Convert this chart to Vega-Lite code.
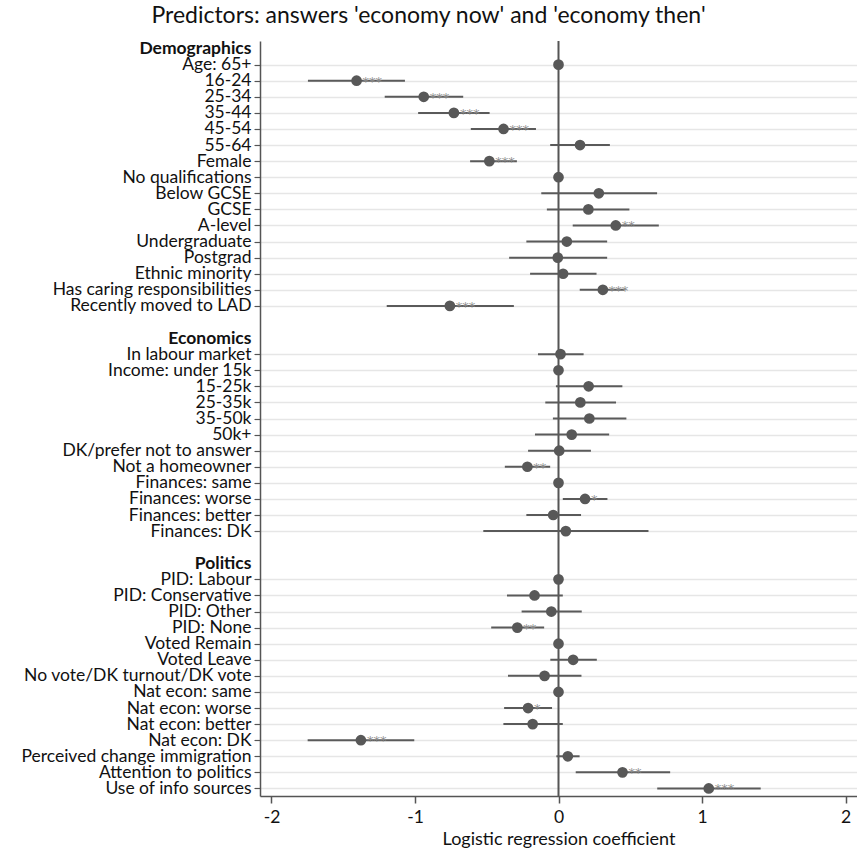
{
  "$schema": "https://vega.github.io/schema/vega-lite/v6.json",
  "autosize": "none",
  "width": 597,
  "height": 755,
  "padding": {"left": 260, "top": 41, "right": 0, "bottom": 61},
  "config": {"view": {"stroke": null}, "font": "Lato"},
  "title": {"text": "Predictors: answers 'economy now' and 'economy then'", "fontSize": 23, "fontWeight": "normal", "font": "Lato", "color": "#111", "anchor": "middle", "frame": "group", "dx": -130, "offset": 12},
  "data": {"values": [
    {"label": "Age: 65+", "coef": 0, "lo": 0, "hi": 0, "stars": ""},
    {"label": "16-24", "coef": -1.407, "lo": -1.746, "hi": -1.07, "stars": "***"},
    {"label": "25-34", "coef": -0.939, "lo": -1.211, "hi": -0.664, "stars": "***"},
    {"label": "35-44", "coef": -0.729, "lo": -0.978, "hi": -0.48, "stars": "***"},
    {"label": "45-54", "coef": -0.383, "lo": -0.611, "hi": -0.157, "stars": "***"},
    {"label": "55-64", "coef": 0.15, "lo": -0.058, "hi": 0.358, "stars": ""},
    {"label": "Female", "coef": -0.482, "lo": -0.616, "hi": -0.29, "stars": "***"},
    {"label": "No qualifications", "coef": 0, "lo": 0, "hi": 0, "stars": ""},
    {"label": "Below GCSE", "coef": 0.281, "lo": -0.12, "hi": 0.687, "stars": ""},
    {"label": "GCSE", "coef": 0.208, "lo": -0.081, "hi": 0.494, "stars": ""},
    {"label": "A-level", "coef": 0.399, "lo": 0.099, "hi": 0.699, "stars": "**"},
    {"label": "Undergraduate", "coef": 0.058, "lo": -0.224, "hi": 0.339, "stars": ""},
    {"label": "Postgrad", "coef": -0.005, "lo": -0.344, "hi": 0.339, "stars": ""},
    {"label": "Ethnic minority", "coef": 0.032, "lo": -0.198, "hi": 0.265, "stars": ""},
    {"label": "Has caring responsibilities", "coef": 0.309, "lo": 0.148, "hi": 0.46, "stars": "***"},
    {"label": "Recently moved to LAD", "coef": -0.757, "lo": -1.197, "hi": -0.311, "stars": "***"},
    {"label": "In labour market", "coef": 0.014, "lo": -0.143, "hi": 0.175, "stars": ""},
    {"label": "Income: under 15k", "coef": 0, "lo": 0, "hi": 0, "stars": ""},
    {"label": "15-25k", "coef": 0.21, "lo": -0.018, "hi": 0.445, "stars": ""},
    {"label": "25-35k", "coef": 0.152, "lo": -0.092, "hi": 0.401, "stars": ""},
    {"label": "35-50k", "coef": 0.215, "lo": -0.039, "hi": 0.473, "stars": ""},
    {"label": "50k+", "coef": 0.092, "lo": -0.164, "hi": 0.353, "stars": ""},
    {"label": "DK/prefer not to answer", "coef": 0.005, "lo": -0.212, "hi": 0.226, "stars": ""},
    {"label": "Not a homeowner", "coef": -0.217, "lo": -0.374, "hi": -0.058, "stars": "**"},
    {"label": "Finances: same", "coef": 0, "lo": 0, "hi": 0, "stars": ""},
    {"label": "Finances: worse", "coef": 0.185, "lo": 0.03, "hi": 0.341, "stars": "*"},
    {"label": "Finances: better", "coef": -0.037, "lo": -0.224, "hi": 0.157, "stars": ""},
    {"label": "Finances: DK", "coef": 0.051, "lo": -0.524, "hi": 0.627, "stars": ""},
    {"label": "PID: Labour", "coef": 0, "lo": 0, "hi": 0, "stars": ""},
    {"label": "PID: Conservative", "coef": -0.167, "lo": -0.359, "hi": 0.03, "stars": ""},
    {"label": "PID: Other", "coef": -0.05, "lo": -0.257, "hi": 0.162, "stars": ""},
    {"label": "PID: None", "coef": -0.287, "lo": -0.469, "hi": -0.1, "stars": "**"},
    {"label": "Voted Remain", "coef": 0, "lo": 0, "hi": 0, "stars": ""},
    {"label": "Voted Leave", "coef": 0.102, "lo": -0.057, "hi": 0.267, "stars": ""},
    {"label": "No vote/DK turnout/DK vote", "coef": -0.097, "lo": -0.352, "hi": 0.16, "stars": ""},
    {"label": "Nat econ: same", "coef": 0, "lo": 0, "hi": 0, "stars": ""},
    {"label": "Nat econ: worse", "coef": -0.212, "lo": -0.379, "hi": -0.045, "stars": "*"},
    {"label": "Nat econ: better", "coef": -0.18, "lo": -0.384, "hi": 0.03, "stars": ""},
    {"label": "Nat econ: DK", "coef": -1.377, "lo": -1.748, "hi": -1.005, "stars": "***"},
    {"label": "Perceived change immigration", "coef": 0.065, "lo": -0.015, "hi": 0.147, "stars": ""},
    {"label": "Attention to politics", "coef": 0.446, "lo": 0.12, "hi": 0.778, "stars": "**"},
    {"label": "Use of info sources", "coef": 1.047, "lo": 0.688, "hi": 1.409, "stars": "***"}
  ]},
  "layer": [
    {
      "data": {"values": [{"z": 0}]},
      "mark": {"type": "rule", "color": "#555555", "strokeWidth": 2},
      "encoding": {"x": {"field": "z", "type": "quantitative"}}
    },
    {
      "mark": {"type": "rule", "color": "#5a5a5a", "strokeWidth": 2},
      "encoding": {
        "y": {
          "field": "label", "type": "ordinal",
          "scale": {"type": "point", "padding": 0.47, "domain": ["Demographics", "Age: 65+", "16-24", "25-34", "35-44", "45-54", "55-64", "Female", "No qualifications", "Below GCSE", "GCSE", "A-level", "Undergraduate", "Postgrad", "Ethnic minority", "Has caring responsibilities", "Recently moved to LAD", " ", "Economics", "In labour market", "Income: under 15k", "15-25k", "25-35k", "35-50k", "50k+", "DK/prefer not to answer", "Not a homeowner", "Finances: same", "Finances: worse", "Finances: better", "Finances: DK", "  ", "Politics", "PID: Labour", "PID: Conservative", "PID: Other", "PID: None", "Voted Remain", "Voted Leave", "No vote/DK turnout/DK vote", "Nat econ: same", "Nat econ: worse", "Nat econ: better", "Nat econ: DK", "Perceived change immigration", "Attention to politics", "Use of info sources"]},
          "axis": {
            "title": null,
            "labelFontSize": 17.5,
            "labelLimit": 400,
            "labelColor": "#111111",
            "labelPadding": 3,
            "labelFontWeight": {"condition": {"test": "datum.value == 'Demographics' || datum.value == 'Economics' || datum.value == 'Politics'", "value": "bold"}, "value": "normal"},
            "tickSize": 6,
            "tickColor": "#555555",
            "tickWidth": 1.2,
            "tickOpacity": {"condition": {"test": "datum.value == 'Demographics' || datum.value == 'Economics' || datum.value == 'Politics' || datum.value == ' ' || datum.value == '  '", "value": 0}, "value": 1},
            "domainColor": "#555555",
            "domainWidth": 1.5,
            "grid": true,
            "gridColor": "#e6e6e6",
            "gridWidth": 1.5,
            "gridOpacity": {"condition": {"test": "datum.value == 'Demographics' || datum.value == 'Economics' || datum.value == 'Politics' || datum.value == ' ' || datum.value == '  '", "value": 0}, "value": 1}
          }
        },
        "x": {
          "field": "lo", "type": "quantitative",
          "scale": {"domain": [-2.08, 2.08], "nice": false, "zero": false},
          "axis": {
            "title": "Logistic regression coefficient",
            "titleFontSize": 18,
            "titleFontWeight": "normal",
            "titleColor": "#111111",
            "titlePadding": 5,
            "values": [-2, -1, 0, 1, 2],
            "labelExpr": "datum.value < 0 ? '-' + abs(datum.value) : '' + datum.value",
            "labelFontSize": 17.5,
            "labelColor": "#111111",
            "labelPadding": 5,
            "tickSize": 7,
            "tickColor": "#555555",
            "tickWidth": 1.5,
            "domainColor": "#555555",
            "domainWidth": 1.5,
            "grid": false
          }
        },
        "x2": {"field": "hi"}
      }
    },
    {
      "mark": {"type": "point", "filled": true, "color": "#585858", "opacity": 1, "size": 115},
      "encoding": {
        "y": {"field": "label", "type": "ordinal"},
        "x": {"field": "coef", "type": "quantitative"}
      }
    },
    {
      "mark": {"type": "text", "color": "#8c8c8c", "font": "DejaVu Sans", "fontSize": 13, "align": "left", "baseline": "middle", "dx": 6, "dy": 1},
      "encoding": {
        "y": {"field": "label", "type": "ordinal"},
        "x": {"field": "coef", "type": "quantitative"},
        "text": {"field": "stars"}
      }
    }
  ]
}
